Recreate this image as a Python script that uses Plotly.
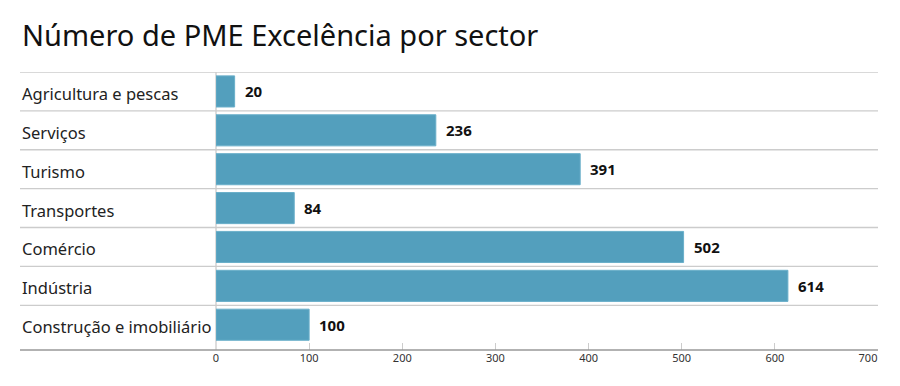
import plotly.graph_objects as go

categories = ["Agricultura e pescas", "Serviços", "Turismo", "Transportes",
              "Comércio", "Indústria", "Construção e imobiliário"]
values = [20, 236, 391, 84, 502, 614, 100]
tick_vals = [0, 100, 200, 300, 400, 500, 600, 700]
tick_text = ["0", "100", "200", "300", "400", "500", "600", "700"]

W, H = 900, 386
L, R, T, B = 216, 32, 72, 36
pw = W - L - R

def px_to_paper_x(px):
    return (px - L) / pw

fig = go.Figure()
fig.add_trace(go.Bar(
    x=values, y=categories, orientation="h",
    marker=dict(color="#539fbd", line=dict(color="#6aafca", width=1)),
    width=0.8, hoverinfo="skip",
))

annotations = []
for c, v in zip(categories, values):
    annotations.append(dict(x=v, y=c, xref="x", yref="y", text=f"<b>{v}</b>",
                            showarrow=False, xanchor="left", xshift=8,
                            font=dict(family="Noto Sans", size=15, color="#111")))
    annotations.append(dict(x=px_to_paper_x(20), y=c, xref="paper", yref="y", text=c,
                            showarrow=False, xanchor="left", yshift=-2,
                            font=dict(family="Noto Sans", size=16.5, color="#222")))

shapes = []
for i in range(len(categories)):
    shapes.append(dict(type="line", xref="paper", yref="y",
                       x0=px_to_paper_x(20), x1=px_to_paper_x(878),
                       y0=i - 0.5, y1=i - 0.5,
                       line=dict(color="#cccccc", width=1.3)))
shapes.append(dict(type="line", xref="paper", yref="paper",
                   x0=px_to_paper_x(20), x1=px_to_paper_x(878), y0=0, y1=0,
                   line=dict(color="#999999", width=1.5)))

fig.update_layout(
    width=W, height=H,
    margin=dict(l=L, r=R, t=T, b=B),
    plot_bgcolor="white", paper_bgcolor="white",
    showlegend=False,
    title=dict(text="Número de PME Excelência por sector", x=22 / W, xanchor="left",
               y=1 - 36 / H, yanchor="middle",
               font=dict(family="Noto Sans", size=29, color="#111")),
    xaxis=dict(range=[0, 700], tickvals=tick_vals, ticktext=tick_text,
               showgrid=False, zeroline=True, zerolinecolor="#dddddd", zerolinewidth=1.5,
               ticks="inside", ticklen=7, tickcolor="#cccccc", tickwidth=1,
               showline=False, fixedrange=True,
               tickfont=dict(family="Noto Sans", size=11, color="#333")),
    yaxis=dict(range=[6.65, -0.5], showticklabels=False, showgrid=False,
               zeroline=False, showline=False, fixedrange=True,
               categoryorder="array", categoryarray=categories),
    annotations=annotations, shapes=shapes,
)

fig.write_html("out.html", config={"displayModeBar": False},
               post_script="document.body.style.margin='0';document.body.style.overflow='hidden';")
